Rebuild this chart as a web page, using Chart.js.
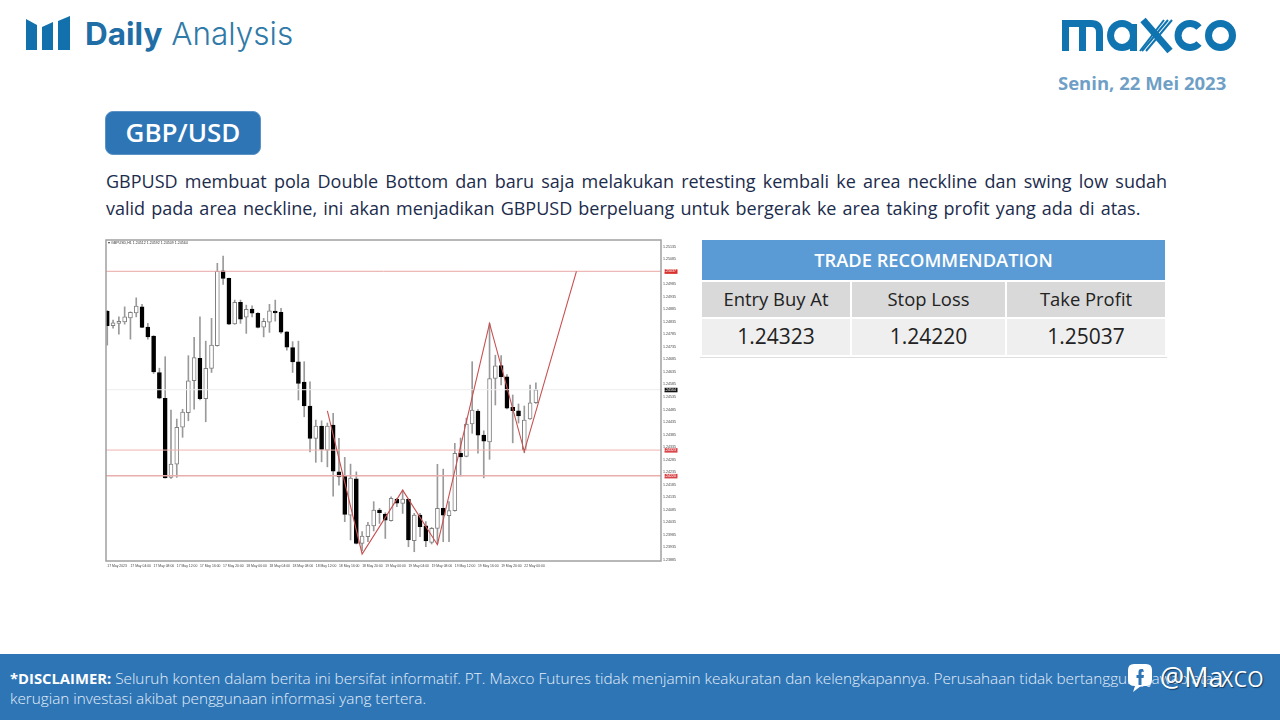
<!DOCTYPE html>
<html lang="id">
<head>
<meta charset="utf-8">
<title>GBP/USD Daily Analysis</title>
<script src="https://cdn.jsdelivr.net/npm/chart.js@4"></script>
<style>
  html, body { margin: 0; padding: 0; background: #fff; }
  body { position: relative; width: 1280px; height: 720px; overflow: hidden; font-family: "Open Sans", sans-serif; }
  .abs { position: absolute; white-space: nowrap; }
  #priceChart { position: absolute; left: 100px; top: 235px; filter: blur(0.3px); }
  #brand { left: 85px; top: 12px; font-family: Inter, sans-serif; font-size: 31.5px; line-height: 44px; color: #1f6ea6; }
  #brand b { font-weight: 700; }
  #brand span { font-weight: 300; color: #2f7aa8; }
  #date { left: 1058px; top: 71px; font-size: 18.5px; font-weight: 700; line-height: 24px; color: #6f9fc6; }
  #pair { left: 105px; top: 111px; width: 156px; height: 44px; box-sizing: border-box; border: 1px solid #5b93c7; border-radius: 8px; background: #2e75b6; color: #fff; font-size: 26px; font-weight: 600; line-height: 41px; text-align: center; }
  .copy { left: 106px; width: 1061px; font-size: 18px; line-height: 26px; color: #1c2c4c; white-space: normal; }
  #line1 { top: 168px; text-align: justify; text-align-last: justify; }
  #line2 { top: 195px; word-spacing: 1.45px; }
  #header { left: 108px; top: 241px; font-family: "Liberation Sans", sans-serif; font-size: 3.6px; line-height: 5px; color: #333; }
  #trade { position: absolute; left: 700px; top: 240px; width: 464px; border-collapse: separate; border-spacing: 2px 2px; margin: -2px 0 0 0; table-layout: fixed; text-align: center; color: #222; border-bottom: 1px solid #dedede; }
  #trade th { background: #5b9bd5; color: #fff; font-size: 18.3px; font-weight: 600; height: 40px; padding: 0 0 2px 0; box-sizing: border-box; }
  #trade td { padding: 0 0 2px 0; box-sizing: border-box; }
  #trade .head td { background: #d9d9d9; font-size: 18.4px; height: 35px; }
  #trade .vals td { background: #efefef; font-size: 21px; height: 36px; }
  #footer { position: absolute; left: 0; top: 654px; width: 1280px; height: 66px; background: #2e75b6; }
  .note { left: 10px; font-size: 15.3px; line-height: 20px; color: #e3eef8; font-weight: 300; }
  .note b { color: #fff; font-weight: 700; font-size: 14.8px; }
  .handle { color: #fff; text-shadow: 1px 1px 1px #16395c; line-height: 36px; }
  #handleBig { left: 1160px; top: 659px; font-size: 27px; }
  #handleSmall { left: 1221px; top: 661px; font-size: 21px; letter-spacing: 0.5px; }
</style>
</head>
<body>

<svg class="abs" style="left:0;top:0" width="1280" height="100" viewBox="0 0 1280 100">
  <g fill="#1271ad">
    <path d="M26 19 L37 25 V50 H26 Z"/>
    <path d="M42 27 L53 22 V50 H42 Z"/>
    <path d="M58 21 L70 16 V50 H58 Z"/>
  </g>
  <g fill="none" stroke="#0f74b0" stroke-width="7">
    <path d="M1065.5 51 V23.5 H1091 Q1099.5 23.5 1099.5 32 V51 M1082.5 23.5 V51"/>
    <ellipse cx="1122" cy="35.5" rx="11.5" ry="12"/>
    <path d="M1133.5 24 V51"/>
    <path d="M1199 27.5 A12 12 0 1 0 1199 43.5"/>
    <ellipse cx="1220.5" cy="35.5" rx="12" ry="12"/>
  </g>
  <g stroke="#0f74b0" fill="none">
    <path d="M1143 20 L1170 51" stroke-width="7"/>
    <path d="M1168 20 L1142 51" stroke-width="2"/>
    <path d="M1172 20 L1146 51" stroke-width="2"/>
    <path d="M1164 20 L1140 51" stroke-width="2"/>
  </g>
</svg>

<div id="brand" class="abs"><b>Daily</b> <span>Analysis</span></div>
<div id="date" class="abs">Senin, 22 Mei 2023</div>
<div id="pair" class="abs">GBP/USD</div>
<div id="line1" class="abs copy">GBPUSD membuat pola Double Bottom dan baru saja melakukan retesting kembali ke area neckline dan swing low sudah</div>
<div id="line2" class="abs copy">valid pada area neckline, ini akan menjadikan GBPUSD berpeluang untuk bergerak ke area taking profit yang ada di atas.</div>

<canvas id="priceChart" width="590" height="340"></canvas>
<div id="header" class="abs">▾ GBPUSD,H1 1.24512 1.24592 1.24509 1.24564</div>

<table id="trade">
  <colgroup><col style="width:148px"><col style="width:153px"><col style="width:158px"></colgroup>
  <tr><th colspan="3">TRADE RECOMMENDATION</th></tr>
  <tr class="head"><td>Entry Buy At</td><td>Stop Loss</td><td>Take Profit</td></tr>
  <tr class="vals"><td>1.24323</td><td>1.24220</td><td>1.25037</td></tr>
</table>

<div id="footer"></div>
<div class="abs note" style="top:668px"><b>*DISCLAIMER:</b> Seluruh konten dalam berita ini bersifat informatif. PT. Maxco Futures tidak menjamin keakuratan dan kelengkapannya. Perusahaan tidak bertanggung jawab atas</div>
<div class="abs note" style="top:688px">kerugian investasi akibat penggunaan informasi yang tertera.</div>
<svg class="abs" style="left:1126px;top:662px" width="28" height="32" viewBox="0 0 28 32">
  <path d="M8 2 H20 Q26 2 26 8 V18 Q26 24 20 24 H15 L7 30 L9 24 Q2 24 2 18 V8 Q2 2 8 2 Z" fill="#fff"/>
  <path d="M17 7 H15 Q12.5 7 12.5 10 V13 H10.5 V16 H12.5 V23 H15.5 V16 H17.5 L18 13 H15.5 V10.5 Q15.5 9.8 16.2 9.8 H18 Z" fill="#2e75b6"/>
</svg>
<div id="handleBig" class="abs handle">@Ma</div>
<div id="handleSmall" class="abs handle">XCO</div>

<script>
// MT4 H1 candles, bar 0 = 17 May 2023 00:00
const opens = [
  1.24878, 1.24820, 1.24829, 1.24835, 1.24851, 1.24871, 1.24895, 1.24814, 1.24778, 1.24633,
  1.24530, 1.24214, 1.24267, 1.24414, 1.24472, 1.24600, 1.24689, 1.24528, 1.24649, 1.24740,
  1.25039, 1.25009, 1.24827, 1.24913, 1.24854, 1.24886, 1.24869, 1.24814, 1.24834, 1.24878,
  1.24873, 1.24795, 1.24732, 1.24675, 1.24595, 1.24499, 1.24370, 1.24419, 1.24323, 1.24423,
  1.24236, 1.24219, 1.24063, 1.24208, 1.23950, 1.23977, 1.24020, 1.24083, 1.24067, 1.24041,
  1.24127, 1.24110, 1.24126, 1.23961, 1.24063, 1.24020, 1.23954, 1.24010, 1.24090, 1.24061,
  1.24081, 1.24310, 1.24298, 1.24427, 1.24479, 1.24383, 1.24356, 1.24609, 1.24660, 1.24616,
  1.24494, 1.24480, 1.24323, 1.24447, 1.24512
];
const highs = [
  1.24880, 1.24842, 1.24855, 1.24895, 1.24875, 1.24931, 1.24905, 1.24829, 1.24780, 1.24650,
  1.24696, 1.24483, 1.24447, 1.24486, 1.24700, 1.24773, 1.24855, 1.24758, 1.24849, 1.25069,
  1.25098, 1.25010, 1.24922, 1.24922, 1.24902, 1.24899, 1.24872, 1.24849, 1.24905, 1.24922,
  1.24889, 1.24796, 1.24756, 1.24758, 1.24676, 1.24596, 1.24443, 1.24440, 1.24431, 1.24470,
  1.24370, 1.24294, 1.24267, 1.24236, 1.23997, 1.24034, 1.24117, 1.24090, 1.24073, 1.24136,
  1.24130, 1.24163, 1.24128, 1.24070, 1.24070, 1.24037, 1.24014, 1.24266, 1.24247, 1.24117,
  1.24350, 1.24371, 1.24451, 1.24676, 1.24485, 1.24400, 1.24829, 1.24702, 1.24700, 1.24625,
  1.24543, 1.24507, 1.24499, 1.24583, 1.24592
];
const lows = [
  1.24742, 1.24810, 1.24786, 1.24826, 1.24766, 1.24855, 1.24812, 1.24766, 1.24629, 1.24528,
  1.24211, 1.24210, 1.24214, 1.24374, 1.24440, 1.24486, 1.24523, 1.24436, 1.24633, 1.24738,
  1.24985, 1.24824, 1.24825, 1.24829, 1.24789, 1.24855, 1.24811, 1.24775, 1.24793, 1.24838,
  1.24789, 1.24722, 1.24633, 1.24523, 1.24456, 1.24316, 1.24274, 1.24276, 1.24256, 1.24139,
  1.24183, 1.24037, 1.23964, 1.23948, 1.23921, 1.23957, 1.24000, 1.24030, 1.23970, 1.24039,
  1.24097, 1.24070, 1.23937, 1.23917, 1.23977, 1.23937, 1.23948, 1.23948, 1.23957, 1.23957,
  1.24079, 1.24219, 1.24296, 1.24390, 1.24311, 1.24212, 1.24286, 1.24503, 1.24583, 1.24487,
  1.24352, 1.24431, 1.24312, 1.24445, 1.24509
];
const closes = [
  1.24820, 1.24831, 1.24837, 1.24855, 1.24873, 1.24898, 1.24813, 1.24775, 1.24635, 1.24530,
  1.24212, 1.24267, 1.24414, 1.24475, 1.24600, 1.24692, 1.24528, 1.24649, 1.24742, 1.25037,
  1.25009, 1.24826, 1.24913, 1.24846, 1.24885, 1.24870, 1.24813, 1.24837, 1.24879, 1.24871,
  1.24794, 1.24734, 1.24675, 1.24589, 1.24499, 1.24370, 1.24419, 1.24326, 1.24419, 1.24239,
  1.24216, 1.24066, 1.24211, 1.23950, 1.23980, 1.24023, 1.24083, 1.24073, 1.24043, 1.24130,
  1.24111, 1.24127, 1.23964, 1.24063, 1.24017, 1.23960, 1.24010, 1.24090, 1.24063, 1.24081,
  1.24310, 1.24296, 1.24427, 1.24483, 1.24383, 1.24359, 1.24609, 1.24659, 1.24616, 1.24490,
  1.24480, 1.24459, 1.24443, 1.24512, 1.24564
];

// hand drawn zigzag on the chart: bar number and price
const zigzagBars = [38, 44, 51, 57, 66, 72, 81];
const zigzagPrices = [1.24480, 1.23908, 1.24163, 1.23945, 1.24829, 1.24318, 1.25037];

const takeProfit = 1.25037;
const entryBuy = 1.24323;
const stopLoss = 1.24220;
const lastPrice = 1.24564;

const priceTicks = [
  1.25135, 1.25085, 1.24985, 1.24935, 1.24885, 1.24835, 1.24785, 1.24735, 1.24685, 1.24635,
  1.24585, 1.24535, 1.24485, 1.24435, 1.24385, 1.24335, 1.24285, 1.24235, 1.24185, 1.24135,
  1.24085, 1.24035, 1.23985, 1.23935, 1.23885
];
const timeLabels = [
  "17 May 2023", "17 May 04:00", "17 May 08:00", "17 May 12:00", "17 May 16:00",
  "17 May 20:00", "18 May 00:00", "18 May 04:00", "18 May 08:00", "18 May 12:00",
  "18 May 16:00", "18 May 20:00", "19 May 00:00", "19 May 04:00", "19 May 08:00",
  "19 May 12:00", "19 May 16:00", "19 May 20:00", "22 May 00:00"
];

const firstBar = -0.22;
const lastBar = 95.6;
const priceTop = 1.25162;
const priceBottom = 1.23880;

const wicks = highs.map((h, i) => ({ x: i, y: [lows[i], h] }));
const bodies = opens.map((o, i) => ({ x: i, y: [Math.min(o, closes[i]), Math.max(o, closes[i])] }));
const isUp = opens.map((o, i) => closes[i] >= o);
const level = p => [{ x: firstBar, y: p }, { x: lastBar, y: p }];

const levelLine = (p, color, width) => ({
  type: "line",
  data: level(p),
  borderColor: color,
  borderWidth: width,
  pointRadius: 0,
  order: 1
});

// frame round the plot, as the terminal draws it
const frame = {
  id: "frame",
  afterDraw(chart) {
    const { ctx, chartArea: a } = chart;
    ctx.save();
    ctx.strokeStyle = "#a0a0a0";
    ctx.lineWidth = 1.5;
    ctx.strokeRect(a.left, a.top, a.right - a.left, a.bottom - a.top);
    ctx.restore();
  }
};

const boxColor = v => {
  if (v === lastPrice) return "#111111";
  if (v === takeProfit) return "#d9302c";
  if (v === entryBuy || v === stopLoss) return "#d9464a";
  return "rgba(0,0,0,0)";
};
const isBoxed = v => v === lastPrice || v === takeProfit || v === entryBuy || v === stopLoss;

new Chart(document.getElementById("priceChart").getContext("2d"), {
  type: "bar",
  data: {
    datasets: [
      {
        type: "line",
        data: zigzagBars.map((b, i) => ({ x: b, y: zigzagPrices[i] })),
        borderColor: "#c94f50",
        borderWidth: 1.1,
        pointRadius: 0,
        tension: 0,
        order: 0
      },
      levelLine(takeProfit, "#e9a6a4", 1),
      levelLine(entryBuy, "#eeb4b2", 1),
      levelLine(stopLoss, "#e8aeae", 1.5),
      levelLine(lastPrice, "#ececec", 1),
      {
        data: bodies,
        grouped: false,
        barThickness: 4,
        backgroundColor: isUp.map(u => (u ? "#ffffff" : "#000000")),
        borderColor: isUp.map(u => (u ? "#808080" : "#000000")),
        borderWidth: 1,
        borderSkipped: false,
        order: 2
      },
      {
        data: wicks,
        grouped: false,
        barThickness: 1,
        backgroundColor: "#9a9a9a",
        borderWidth: 0,
        order: 3
      }
    ]
  },
  options: {
    responsive: false,
    animation: false,
    layout: { padding: { left: 6, top: 5, right: 0, bottom: 0 } },
    plugins: { legend: { display: false }, tooltip: { enabled: false } },
    scales: {
      x: {
        type: "linear",
        offset: false,
        min: firstBar,
        max: lastBar,
        grid: { display: false, drawTicks: false },
        border: { display: false },
        afterBuildTicks: s => { s.ticks = timeLabels.map((_, i) => ({ value: i * 4 })); },
        afterFit: s => { s.height = 14; },
        ticks: {
          autoSkip: false,
          maxRotation: 0,
          align: "start",
          padding: 3,
          color: "#444",
          font: { family: "Liberation Sans", size: 3.4 },
          callback: v => timeLabels[v / 4]
        }
      },
      y: {
        position: "right",
        min: priceBottom,
        max: priceTop,
        grid: { display: false, drawTicks: false },
        border: { display: false },
        afterBuildTicks: s => {
          const all = priceTicks.concat([takeProfit, entryBuy, stopLoss, lastPrice]);
          s.ticks = all.map(v => ({ value: v }));
        },
        afterFit: s => { s.width = 29; },
        ticks: {
          autoSkip: false,
          padding: 2,
          color: c => (isBoxed(c.tick.value) ? "#ffffff" : "#444444"),
          font: { family: "Liberation Sans", size: 3.6 },
          showLabelBackdrop: c => isBoxed(c.tick.value),
          backdropColor: c => boxColor(c.tick.value),
          backdropPadding: { left: -1.5, right: 1.5, top: -0.2, bottom: 0.4 },
          callback: v => v.toFixed(5)
        }
      }
    }
  },
  plugins: [frame]
});
</script>
</body>
</html>
